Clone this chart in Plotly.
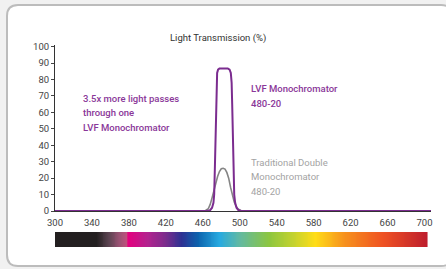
import plotly.graph_objects as go

# ---- data ----
lvf_wl = [300, 464, 468, 470, 471.5, 472.3, 473, 473.7, 474.3, 474.8, 475.5, 476.5, 478,
          487, 489, 490.3, 491.2, 491.8, 492.5, 493.2, 494, 495, 496.5, 498.5, 502, 707]
lvf_tr = [0, 0, 0.5, 2, 5, 10, 25, 45, 65, 78, 84, 86, 86.7,
          86.7, 86, 84, 78, 65, 45, 25, 10, 5, 2, 0.5, 0, 0]

dbl_wl = [300, 460, 463, 466, 468, 470, 472, 474, 476, 478, 480, 482, 484, 486, 488,
          490, 492, 494, 496, 498, 501, 504, 707]
dbl_tr = [0, 0, 0.3, 1.5, 4, 8, 12.5, 17, 21, 24, 25.7, 26, 25.5, 23.5, 20,
          14.5, 9.5, 5.5, 3, 1.3, 0.3, 0, 0]

x_label_vals = [300, 340, 380, 420, 460, 500, 540, 580, 620, 660, 700]
x_tick_vals = [320, 360, 400, 440, 480, 520, 560, 600, 640, 680]
y_tick_vals = [0, 10, 20, 30, 40, 50, 60, 70, 80, 90, 100]

spec_wl = [300, 345, 358, 370, 378, 379.5, 400, 420, 437, 455, 478, 500, 532, 558, 582, 612, 655, 703]
spec_col = ["#231f20", "#231f20", "#5a4350", "#9b5274", "#c2517d", "#e4007f", "#b3228e",
            "#7b2c8c", "#2e3192", "#0c63ad", "#27aae1", "#62b9a2", "#8dc63f", "#c3d22f",
            "#ffdd17", "#f7941d", "#ef5223", "#be1e2d"]

# ---- layout geometry (pixels) ----
W, H = 446, 269
L, R, T, B = 55, 15, 45, 22
PW, PH = W - L - R, H - T - B

def px(x):
    return (x - L) / PW

def py(y):
    return (H - B - y) / PH

FONT = "Roboto"
PURPLE = "#7b2c8f"
PURPLE_TXT = "#8a3799"
GRAY = "#858585"
GRAY_TXT = "#a3a3a3"

fig = go.Figure()

# spectrum bar
lo, hi = spec_wl[0], spec_wl[-1]
cscale = [[(w - lo) / (hi - lo), c] for w, c in zip(spec_wl, spec_col)]
spec_x = list(range(300, 704))
fig.add_trace(go.Heatmap(x=spec_x, y=[0.5], z=[spec_x], colorscale=cscale,
                         zmin=lo, zmax=hi, showscale=False, hoverinfo="skip",
                         xaxis="x", yaxis="y2"))

fig.add_trace(go.Scatter(x=dbl_wl, y=dbl_tr, mode="lines",
                         line=dict(color=GRAY, width=1.6), hoverinfo="skip"))
fig.add_trace(go.Scatter(x=lvf_wl, y=lvf_tr, mode="lines",
                         line=dict(color=PURPLE, width=2), hoverinfo="skip"))

axis_font = dict(family=FONT, size=9.5, color="#444444")

fig.update_layout(
    width=W, height=H,
    margin=dict(l=L, r=R, t=T, b=B, pad=0),
    paper_bgcolor="#f1f1f1",
    plot_bgcolor="rgba(0,0,0,0)",
    showlegend=False,
    xaxis=dict(range=[300, 707], tickvals=x_label_vals, ticks="outside", ticklen=3,
               tickcolor="rgba(0,0,0,0)", showline=True, linecolor="#333333", linewidth=1,
               showgrid=False, zeroline=False, tickfont=axis_font, anchor="y",
               fixedrange=True),
    xaxis2=dict(range=[300, 707], tickvals=x_tick_vals, ticks="outside", ticklen=3,
                tickcolor="#444444", tickwidth=1, showticklabels=False, showline=False,
                showgrid=False, zeroline=False, overlaying="x", anchor="y", side="bottom"),
    yaxis=dict(range=[0, 101], domain=[36 / PH, 1], tickvals=y_tick_vals, ticks="outside",
               ticklen=3, tickcolor="#444444", showline=True, linecolor="#333333",
               linewidth=1, showgrid=False, zeroline=False, tickfont=axis_font,
               fixedrange=True),
    yaxis2=dict(range=[0, 1], domain=[0, 15 / PH], visible=False, anchor="x",
                fixedrange=True),
)

# rounded frame
x0, x1, y0, y1, r = 7, 452, 5, 266, 11
path = (f"M {px(x0+r)},{py(y0)} L {px(x1-r)},{py(y0)} Q {px(x1)},{py(y0)} {px(x1)},{py(y0+r)} "
        f"L {px(x1)},{py(y1-r)} Q {px(x1)},{py(y1)} {px(x1-r)},{py(y1)} "
        f"L {px(x0+r)},{py(y1)} Q {px(x0)},{py(y1)} {px(x0)},{py(y1-r)} "
        f"L {px(x0)},{py(y0+r)} Q {px(x0)},{py(y0)} {px(x0+r)},{py(y0)} Z")
fig.add_shape(type="path", path=path, xref="paper", yref="paper",
              fillcolor="white", line=dict(color="#bcbcbc", width=2), layer="below")

# title
fig.add_annotation(text="Light Transmission (%)", xref="paper", yref="paper",
                   x=px(218), y=py(38), xanchor="center", yanchor="middle", showarrow=False,
                   font=dict(family=FONT, size=9.5, color="#333333"))

def label(lines, x, ys, color, weight):
    for t, yy in zip(lines, ys):
        fig.add_annotation(text=t, xref="paper", yref="paper", x=px(x), y=py(yy),
                           xanchor="left", yanchor="middle", showarrow=False,
                           font=dict(family=FONT, size=9.5, color=color, weight=weight))

label(["3.5x more light passes", "through one", "LVF Monochromator"], 81, [98, 112.5, 127],
      PURPLE_TXT, 500)
label(["LVF Monochromator", "480-20"], 249, [88, 103], PURPLE_TXT, 500)
label(["Traditional Double", "Monochromator", "480-20"], 249, [162, 176, 191], GRAY_TXT, 400)

fig.write_html("out.html", config={"displayModeBar": False, "staticPlot": True},
               post_script="document.body.style.margin='0';document.body.style.overflow='hidden';")
